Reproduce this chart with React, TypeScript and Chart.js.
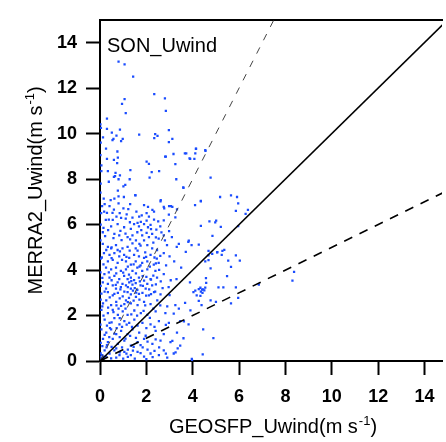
import React, { useEffect, useRef } from "react";
import { Chart, registerables } from "chart.js";

Chart.register(...registerables);

const panelLabel = "SON_Uwind";
const xTitleMain = "GEOSFP_Uwind(m s";
const yTitleMain = "MERRA2_Uwind(m s";
const unitSup = "-1";
const unitClose = ")";

const xTicks = [0, 2, 4, 6, 8, 10, 12, 14];
const yTicks = [0, 2, 4, 6, 8, 10, 12, 14];
const xRange = [0, 14.75];
const yRange = [0, 15];

// reference lines y = slope * x (1:1 solid, 2:1 and 1:2 dashed)
const refSlopes = [1, 2, 0.5];

// [GEOSFP_Uwind, MERRA2_Uwind]
const upperPoints: number[][] = [
  [0.8, 13.16], [1.06, 13.04], [1.43, 12.5], [2.34, 11.73], [2.8, 11.55], [1.06, 11.51],
  [0.95, 11.3], [2.84, 11.0], [1.11, 10.9], [0.3, 10.66], [0.04, 10.25], [0.3, 10.2],
  [0.51, 10.04], [0.86, 10.17], [0.13, 9.83], [0.71, 9.91], [0.58, 9.77], [0.54, 9.71],
  [0.98, 9.77], [0.91, 9.67], [1.69, 9.95], [2.38, 9.97], [2.48, 9.9], [2.34, 9.8],
  [2.97, 10.15], [3.12, 9.77], [2.97, 9.62], [4.14, 9.33], [4.54, 9.27], [3.86, 8.91],
  [3.66, 9.13], [4.11, 9.13], [2.81, 8.98], [0.02, 10.4], [0.03, 9.6], [0.02, 9.05],
];

const midPoints: number[][] = [
  [0.26, 9.34], [0.75, 9.21], [0.3, 8.89], [0.6, 8.84], [0.77, 8.94], [0.74, 8.7],
  [0.06, 8.6], [0.06, 8.35], [0.34, 8.35], [0.67, 8.27], [0.65, 8.13], [0.6, 8.09],
  [0.86, 8.16], [0.8, 7.99], [1.28, 7.99], [1.31, 8.39], [0.38, 7.88], [1.09, 7.74],
  [1.01, 7.68], [0.77, 7.49], [1.03, 7.21], [0.8, 7.24], [0.62, 7.14], [0.46, 7.07],
  [0.16, 7.14], [0.09, 6.81], [0.41, 6.81], [0.8, 6.93], [1.01, 6.71], [1.22, 6.68],
  [1.52, 7.29], [0.18, 6.57], [0.3, 6.51], [0.54, 6.51], [0.71, 6.35], [0.38, 6.21],
  [0.91, 6.29], [1.11, 6.26], [1.29, 6.1], [1.57, 6.57], [1.69, 6.35], [1.9, 6.85],
  [2.07, 6.78], [2.26, 6.64], [2.01, 6.5], [2.33, 6.57], [2.11, 6.35], [2.01, 6.17],
  [1.76, 6.12], [1.62, 6.07], [2.33, 6.21], [2.51, 6.14], [2.61, 7.02], [2.75, 6.78],
  [2.98, 6.81], [3.06, 6.81], [2.97, 6.43], [2.75, 6.18], [3.25, 6.31], [3.32, 6.67],
  [2.23, 8.3], [2.55, 8.35], [2.01, 8.77], [2.11, 8.67], [2.14, 8.06], [2.84, 8.98],
  [3.17, 9.1], [3.25, 8.66], [3.29, 7.99], [3.72, 9.13], [3.89, 8.89], [4.07, 8.89],
  [4.14, 9.34], [4.55, 9.24], [3.6, 7.61], [4.1, 6.85], [4.35, 7.02], [3.59, 7.63],
  [1.53, 7.28], [2.62, 7.07], [3.12, 6.78], [2.77, 6.71], [0.03, 7.8], [0.02, 7.4],
  [0.05, 6.5], [0.25, 6.2], [0.55, 6.2], [0.85, 6.5], [1.15, 6.45], [1.4, 6.3],
  [1.8, 6.4], [0.2, 6.9], [0.6, 6.65], [1.3, 6.9],
];

const rightPoints: number[][] = [
  [4.77, 8.06], [5.18, 7.21], [5.65, 7.28], [5.91, 7.21], [5.96, 6.93], [5.86, 6.6],
  [6.38, 6.64], [6.28, 6.47], [4.35, 7.04], [4.72, 6.14], [5.01, 6.17], [4.97, 6.09],
  [5.21, 5.9], [5.96, 5.93], [4.35, 5.94], [4.85, 5.5], [4.26, 5.12], [4.68, 4.84],
  [5.06, 4.79], [5.28, 4.84], [5.36, 4.89], [4.68, 4.64], [4.84, 4.71], [5.05, 4.78],
  [5.25, 4.67], [5.53, 4.41], [5.86, 4.64], [6.03, 4.41], [5.65, 4.14], [4.54, 4.38],
  [4.77, 4.07], [4.57, 3.64], [4.58, 3.43], [5.48, 3.73], [4.33, 3.22], [4.4, 3.14],
  [4.45, 3.15], [4.5, 3.1], [4.35, 3.05], [4.42, 3.0], [4.33, 2.86], [5.11, 3.24],
  [5.32, 3.24], [5.86, 3.24], [5.96, 2.77], [4.77, 2.67], [5.0, 2.6], [4.26, 2.64],
  [5.65, 2.53], [6.85, 3.36], [8.3, 3.53], [8.37, 3.92], [4.89, 1.01], [4.43, 0.29],
  [4.26, 3.16], [4.54, 3.23], [4.11, 3.09], [4.68, 4.43],
];

const densePoints: number[][] = [
  [0.48, 5.92], [0.76, 6.02], [1.04, 5.88], [1.33, 5.81], [1.47, 6.02], [1.68, 5.92],
  [1.9, 6.02], [2.07, 5.88], [2.18, 5.98], [2.43, 5.78], [2.6, 5.92], [0.12, 5.66],
  [0.22, 5.49], [0.62, 5.59], [0.83, 5.52], [0.93, 5.31], [1.19, 5.45], [1.4, 5.52],
  [1.61, 5.66], [1.82, 5.52], [2.01, 5.63], [2.11, 5.45], [2.25, 5.59], [2.53, 5.38],
  [2.75, 5.52], [2.89, 5.09], [3.31, 5.02], [3.81, 5.24], [3.95, 5.09], [0.34, 5.02],
  [0.48, 4.95], [0.69, 5.09], [0.76, 4.88], [0.97, 4.95], [1.19, 5.02], [1.4, 5.17],
  [1.54, 4.95], [1.75, 5.07], [2.04, 5.09], [2.25, 4.95], [2.46, 4.88], [0.17, 4.74],
  [0.41, 4.67], [0.62, 4.74], [0.83, 4.6], [1.04, 4.67], [1.26, 4.53], [1.47, 4.67],
  [1.68, 4.6], [1.9, 4.53], [2.18, 4.67], [2.75, 4.74], [0.34, 4.38], [0.55, 4.45],
  [0.76, 4.31], [1.12, 4.38], [1.33, 4.24], [1.54, 4.38], [1.82, 4.31], [2.04, 4.38],
  [2.32, 4.24], [2.53, 4.31], [3.2, 4.38], [0.26, 4.1], [0.48, 4.03], [0.69, 4.1],
  [0.9, 3.96], [1.12, 4.03], [1.4, 3.96], [1.61, 4.1], [1.82, 3.96], [2.04, 4.03],
  [2.39, 3.96], [0.19, 3.82], [0.41, 3.67], [0.62, 3.74], [0.83, 3.6], [1.04, 3.74],
  [1.19, 3.6], [1.33, 3.67], [1.47, 3.56], [1.68, 3.67], [1.9, 3.53], [2.18, 3.6],
  [2.46, 3.67], [2.75, 3.82], [0.12, 3.46], [0.34, 3.39], [0.55, 3.32], [0.76, 3.46],
  [0.97, 3.39], [1.12, 3.32], [1.26, 3.46], [1.4, 3.36], [1.54, 3.42], [1.75, 3.32],
  [2.04, 3.39], [2.25, 3.32], [0.26, 3.18], [0.69, 3.18], [0.9, 3.25], [1.33, 3.18],
  [1.61, 3.13], [1.97, 3.18], [3.88, 3.46], [2.96, 3.25], [2.41, 4.29], [2.55, 4.01],
  [1.84, 3.73], [1.35, 3.51], [1.56, 3.01], [1.42, 3.09], [1.2, 2.59], [1.99, 2.87],
  [2.2, 2.94], [0.71, 2.45], [0.85, 1.88], [0.43, 1.45], [3.4, 2.3], [3.62, 1.74],
  [3.9, 2.23], [2.84, 1.59], [3.12, 0.88], [1.84, 0.6], [2.27, 0.17], [3.97, 0.03],
  [2.84, 0.32], [1.14, 0.32], [1.42, 0.46], [0.85, 0.38], [0.28, 0.6], [2.55, 0.6],
  [3.26, 0.38], [2.2, 3.58], [2.41, 3.37], [1.7, 4.15], [1.99, 4.58], [1.14, 4.58],
  [0.5, 5.0], [1.7, 5.15], [2.41, 5.43], [2.98, 5.71], [3.4, 5.15], [3.83, 5.29],
  [0.03, 6.0], [0.02, 5.3], [0.03, 4.5], [0.02, 3.9], [0.03, 3.3],
  [0.15, 5.85], [0.35, 5.75], [0.58, 5.4], [0.88, 5.72], [1.1, 5.6], [1.3, 5.35],
  [1.55, 5.3], [1.78, 5.75], [2.3, 5.2], [2.65, 5.65], [0.12, 5.15], [0.27, 4.88],
  [0.86, 4.82], [1.28, 4.85], [1.62, 4.85], [1.95, 4.78], [2.35, 4.55], [2.6, 4.62],
  [0.08, 4.55], [0.5, 4.52], [0.95, 4.45], [1.2, 4.15], [1.45, 4.25], [1.75, 4.2],
  [2.15, 4.15], [2.45, 4.5], [0.15, 4.25], [0.38, 3.9], [0.7, 3.85], [1.0, 3.88],
  [1.25, 3.8], [1.55, 3.85], [1.72, 3.5], [2.0, 3.7], [2.3, 3.75], [2.62, 3.5],
  [0.1, 3.65], [0.5, 3.55], [0.68, 3.35], [0.88, 3.15], [1.05, 3.05], [1.2, 3.25],
  [1.5, 3.2], [1.68, 2.95], [1.85, 3.3], [2.12, 3.15], [2.38, 3.05], [2.7, 3.2],
  [1.9, 5.3], [2.2, 5.8], [2.8, 5.3], [3.1, 5.45], [3.0, 4.6], [2.85, 4.2],
  [3.3, 3.6], [3.05, 3.55], [3.5, 4.1], [3.7, 4.8],
];

const lowPoints: number[][] = [
  [0.06, 2.96], [0.34, 3.03], [0.55, 2.89], [0.77, 2.99], [0.98, 2.84], [1.19, 3.03],
  [1.33, 2.93], [1.55, 2.82], [1.83, 2.99], [2.11, 2.89], [2.33, 3.03], [2.61, 2.93],
  [4.03, 3.03], [4.17, 2.89], [0.13, 2.53], [0.27, 2.67], [0.48, 2.46], [0.7, 2.6],
  [0.91, 2.42], [1.12, 2.67], [1.33, 2.53], [1.62, 2.46], [1.9, 2.6], [2.18, 2.5],
  [2.47, 2.67], [3.25, 2.46], [3.67, 2.56], [4.38, 2.46], [0.06, 2.25], [0.34, 2.1],
  [0.55, 2.25], [0.77, 2.03], [0.98, 2.18], [1.19, 2.03], [1.48, 2.22], [1.76, 2.1],
  [2.04, 2.03], [2.4, 2.18], [2.82, 2.1], [3.18, 2.08], [0.2, 1.82], [0.41, 1.68],
  [0.62, 1.89], [0.84, 1.61], [1.05, 1.75], [1.26, 1.68], [1.48, 1.82], [1.83, 1.68],
  [2.18, 1.61], [2.54, 1.75], [2.97, 1.68], [3.46, 1.75], [3.82, 1.61], [0.06, 1.39],
  [0.27, 1.25], [0.48, 1.39], [0.7, 1.18], [0.91, 1.32], [1.19, 1.18], [1.4, 1.39],
  [1.69, 1.25], [1.97, 1.11], [2.4, 1.32], [2.75, 1.18], [3.32, 1.25], [4.45, 1.39],
  [0.13, 0.97], [0.34, 0.83], [0.55, 0.97], [0.77, 0.75], [1.05, 0.9], [1.33, 0.68],
  [1.62, 0.83], [1.9, 0.97], [2.26, 0.75], [2.61, 0.9], [3.04, 0.83], [3.46, 0.68],
  [0.2, 0.47], [0.41, 0.33], [0.62, 0.47], [0.84, 0.26], [1.05, 0.4], [1.33, 0.26],
  [1.62, 0.4], [1.9, 0.19], [2.18, 0.33], [2.54, 0.26], [2.75, 0.47], [3.18, 0.33],
  [3.96, 0.09], [0.0, 0.19], [0.06, 0.12], [0.13, 0.19], [0.09, 0.26], [0.17, 0.12],
  [0.03, 0.33], [0.02, 0.04], [0.03, 0.8], [0.02, 1.6], [0.03, 2.7],
  [3.0, 2.9], [0.2, 3.05], [0.42, 2.8], [0.62, 2.95], [0.85, 2.75], [1.05, 2.5],
  [1.25, 2.78], [1.45, 2.65], [1.7, 2.7], [1.95, 2.45], [2.3, 2.3], [2.6, 2.45],
  [0.1, 2.4], [0.35, 2.35], [0.58, 2.15], [0.8, 2.3], [1.1, 2.3], [1.35, 2.05],
  [1.6, 2.0], [1.88, 2.2], [2.15, 1.9], [2.9, 2.4], [0.15, 2.0], [0.3, 1.55],
  [0.5, 1.7], [0.72, 1.45], [0.95, 1.5], [1.15, 1.6], [1.38, 1.5], [1.62, 1.55],
  [2.0, 1.45], [2.35, 1.5], [0.2, 1.15], [0.4, 1.05], [0.62, 1.2], [0.85, 1.05],
  [1.1, 0.98], [1.3, 1.1], [1.55, 1.02], [1.75, 0.7], [2.05, 0.85], [2.4, 0.95],
  [0.1, 0.65], [0.3, 0.7], [0.5, 0.62], [0.7, 0.55], [0.95, 0.6], [1.2, 0.5],
  [1.45, 0.62], [1.75, 0.35], [2.05, 0.5], [2.35, 0.45], [0.25, 0.2], [0.48, 0.12],
  [0.7, 0.15], [1.0, 0.1], [1.2, 0.18], [1.5, 0.1], [2.0, 0.08], [2.9, 0.15],
  [3.35, 0.55], [3.6, 1.0],
];

const allPoints = [...upperPoints, ...midPoints, ...rightPoints, ...densePoints, ...lowPoints];

const FONT = '"Liberation Sans", Arial, sans-serif';

const textPlugin = {
  id: "textPlugin",
  afterDraw(chart: any) {
    const { ctx, chartArea } = chart;
    ctx.save();
    ctx.fillStyle = "#000";
    ctx.textAlign = "left";
    ctx.textBaseline = "alphabetic";

    // panel label
    ctx.font = `20px ${FONT}`;
    ctx.fillText(panelLabel, chartArea.left + 7, chartArea.top + 32);

    const drawTitle = (main: string) => {
      ctx.font = `20px ${FONT}`;
      const w1 = ctx.measureText(main).width;
      ctx.font = `13px ${FONT}`;
      const w2 = ctx.measureText(unitSup).width;
      ctx.font = `20px ${FONT}`;
      const w3 = ctx.measureText(unitClose).width;
      const total = w1 + w2 + 1 + w3;
      let x0 = -total / 2;
      ctx.fillText(main, x0, 0);
      x0 += w1 + 1;
      ctx.font = `13px ${FONT}`;
      ctx.fillText(unitSup, x0, -8);
      x0 += w2;
      ctx.font = `20px ${FONT}`;
      ctx.fillText(unitClose, x0, 0);
    };

    // x title
    ctx.save();
    ctx.translate((chartArea.left + chartArea.right) / 2 + 2, chartArea.bottom + 72);
    drawTitle(xTitleMain);
    ctx.restore();

    // y title
    ctx.save();
    ctx.translate(42, (chartArea.top + chartArea.bottom) / 2);
    ctx.rotate(-Math.PI / 2);
    drawTitle(yTitleMain);
    ctx.restore();

    ctx.restore();
  },
};

export default function App() {
  const canvasRef = useRef<HTMLCanvasElement | null>(null);

  useEffect(() => {
    if (!canvasRef.current) return;
    const lineStyles = [
      { color: "#000", width: 1.6, dash: [] as number[] },
      { color: "#444", width: 1, dash: [7, 8] },
      { color: "#000", width: 1.6, dash: [9, 8] },
    ];
    const lineSets = refSlopes.map((s, i) => ({
      data: [
        { x: 0, y: 0 },
        { x: 20, y: 20 * s },
      ],
      showLine: true,
      borderColor: lineStyles[i].color,
      borderWidth: lineStyles[i].width,
      borderDash: lineStyles[i].dash,
      pointRadius: 0,
      fill: false,
    }));

    const chart = new Chart(canvasRef.current, {
      type: "scatter",
      data: {
        datasets: [
          ...lineSets,
          {
            data: allPoints.map((p) => ({ x: p[0], y: p[1] })),
            pointStyle: "rect",
            pointRadius: 1.6,
            pointBorderWidth: 0,
            backgroundColor: "#1a4cff",
            borderColor: "#1a4cff",
            showLine: false,
          },
        ],
      },
      options: {
        animation: false,
        responsive: false,
        maintainAspectRatio: false,
        events: [],
        layout: { padding: { top: 9, left: 0, right: 0, bottom: 0 } },
        plugins: { legend: { display: false }, tooltip: { enabled: false } },
        scales: {
          x: {
            type: "linear",
            position: "bottom",
            min: xRange[0],
            max: xRange[1],
            afterBuildTicks: (s: any) => {
              s.ticks = xTicks.map((v) => ({ value: v }));
            },
            afterFit: (s: any) => {
              s.height = 81;
            },
            grid: {
              display: true,
              drawOnChartArea: false,
              drawTicks: true,
              tickLength: 14,
              tickWidth: 2,
              tickColor: "#000",
              color: "#000",
            },
            border: { display: true, color: "#000", width: 2 },
            ticks: {
              color: "#000",
              padding: 11,
              maxRotation: 0,
              font: { family: FONT, size: 18, weight: "bold" },
              callback: (v: any) => String(v),
            },
          },
          x2: {
            type: "linear",
            position: "top",
            min: 0,
            max: 1,
            afterFit: (s: any) => {
              s.height = 0;
            },
            grid: { display: false },
            ticks: { display: false },
            border: { display: true, color: "#000", width: 2 },
          },
          y: {
            type: "linear",
            position: "left",
            min: yRange[0],
            max: yRange[1],
            afterBuildTicks: (s: any) => {
              s.ticks = yTicks.map((v) => ({ value: v }));
            },
            afterFit: (s: any) => {
              s.width = 100;
            },
            grid: {
              display: true,
              drawOnChartArea: false,
              drawTicks: true,
              tickLength: 14,
              tickWidth: 2,
              tickColor: "#000",
              color: "#000",
            },
            border: { display: true, color: "#000", width: 2 },
            ticks: {
              color: "#000",
              padding: 9,
              font: { family: FONT, size: 18, weight: "bold" },
              callback: (v: any) => String(v),
            },
          },
        },
      },
      plugins: [textPlugin],
    } as any);
    return () => chart.destroy();
  }, []);

  return (
    <div
      style={{
        position: "absolute",
        left: 0,
        top: 0,
        width: 446,
        height: 442,
        overflow: "hidden",
        background: "#fff",
      }}
    >
      <canvas ref={canvasRef} width={446} height={442} style={{ width: 446, height: 442 }} />
    </div>
  );
}
